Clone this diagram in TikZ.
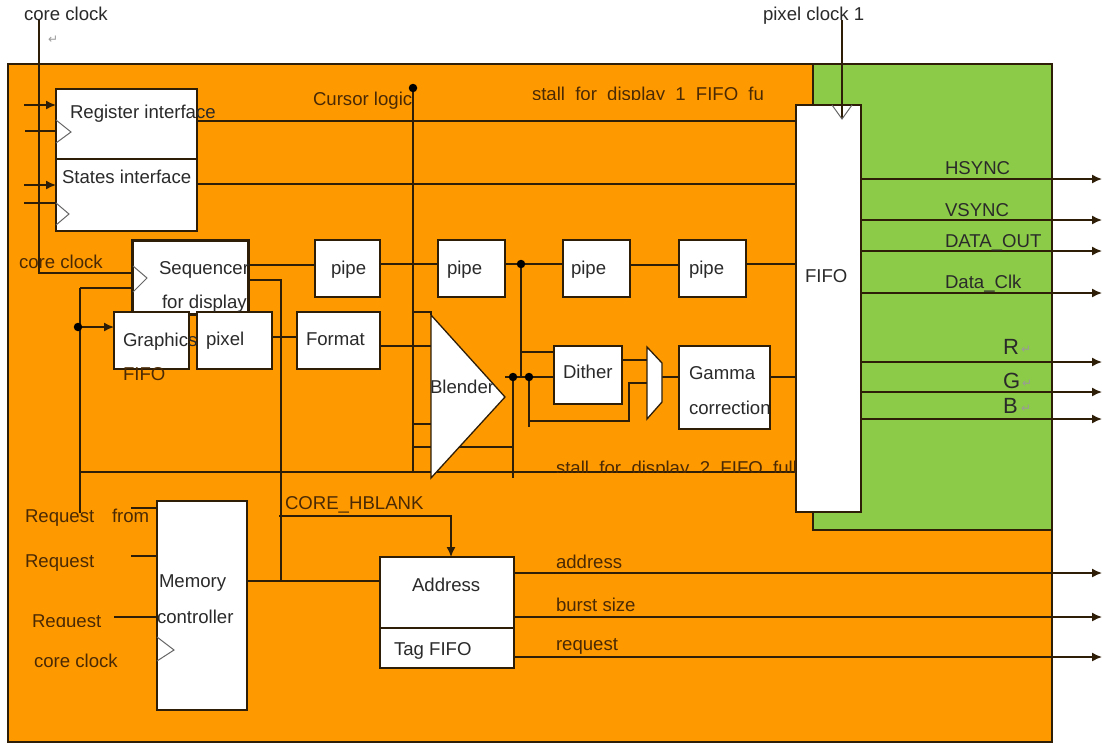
\documentclass[tikz,border=0pt]{standalone}
\usepackage{fontspec}
\setmainfont{Liberation Sans}
\newfontfamily\symfont{DejaVu Sans}
\definecolor{orangebg}{HTML}{FF9900}
\definecolor{greenbg}{HTML}{8CCB47}
\definecolor{wire}{HTML}{2E1E08}
\definecolor{txtdark}{HTML}{2A2A2A}
\definecolor{txtorange}{HTML}{4A2A05}
\definecolor{clk}{HTML}{666666}
\definecolor{markgrey}{HTML}{9A9A9A}
\usetikzlibrary{arrows.meta}
\tikzset{
  wireline/.style={draw=wire,line width=1.5pt},
  arrowline/.style={wireline,-{Latex[length=10pt,width=9pt]}},
  boxnode/.style={draw=wire,fill=white,line width=1.3pt,inner sep=0pt,outer sep=0pt},
  clocktri/.style={draw=clk,line width=1pt,line join=miter},
  shapefill/.style={draw=wire,fill=white,line width=1.3pt},
  dotnode/.style={circle,fill=black,inner sep=0pt,minimum size=8.5pt},
  lbl/.style={anchor=base west,inner sep=0pt,outer sep=0pt,text=txtdark,font=\fontsize{18.6}{22}\selectfont},
  lblo/.style={lbl,text=txtorange},
  lblbig/.style={lbl,font=\fontsize{22}{24}\selectfont},
  retmark/.style={anchor=base west,inner sep=0pt,text=markgrey,font=\symfont\fontsize{12}{14}\selectfont},
}
\newcommand{\bx}[6][]{\node[boxnode,#1,minimum width={(#4-#2)*1pt},minimum height={(#5-#3)*1pt}] (#6) at ({(#2+#4)/2},{(#3+#5)/2}) {};}
\begin{document}
\begin{tikzpicture}[x=1pt,y=-1pt]
\useasboundingbox (0,0) rectangle (1102,744);
\fill[white] (0,0) rectangle (1102,744);
% backgrounds
\bx[fill=orangebg]{8}{64}{1052}{742}{core}
\bx[fill=greenbg]{813}{64}{1052}{530}{disp}
% named free ends and junctions
\coordinate (ckA) at (39,20);
\coordinate (ckB) at (39,273);
\coordinate (px) at (842,20);
\coordinate (pxT) at (842,119);
\coordinate (cur) at (413,88);
\coordinate (curB) at (413,472);
\coordinate (stL) at (80,472);
\coordinate (reqT) at (80,288);
\coordinate (reqB) at (80,513);
\coordinate (gj) at (78,327);
\coordinate (sq) at (281,280);
\coordinate (sqB) at (281,581);
\coordinate (hb) at (279,516);
\coordinate (hbC) at (451,516);
\coordinate (pj) at (521,264);
\coordinate (pjB) at (521,377);
\coordinate (bj) at (513,377);
\coordinate (bjB) at (513,478);
\coordinate (dj) at (529,377);
\coordinate (djB) at (529,427);
\coordinate (djC) at (529,421);
\coordinate (djD) at (629,421);
\coordinate (djE) at (629,383);
\coordinate (tipOut) at (505,377);
\coordinate (blA) at (431,315);
\coordinate (blB) at (505,397);
\coordinate (blC) at (431,478);
\coordinate (muA) at (647,347);
\coordinate (muB) at (662,363);
\coordinate (muC) at (662,402);
\coordinate (muD) at (647,419);
\coordinate (outR) at (1102,0);
% boxes used as anchors are declared first, drawn over the wires afterwards
\begin{scope}[every node/.append style={opacity=0}]
\bx{56}{89}{197}{159}{reg}
\bx{56}{159}{197}{231}{sta}
\bx{132}{240}{248}{314}{seq}
\bx{114}{312}{189}{369}{gfx}
\bx{197}{312}{272}{369}{pix}
\bx{297}{312}{380}{369}{fmt}
\bx{315}{240}{380}{297}{pa}
\bx{438}{240}{505}{297}{pb}
\bx{563}{240}{630}{297}{pc}
\bx{679}{240}{746}{297}{pd}
\bx{554}{346}{622}{404}{dit}
\bx{679}{346}{770}{429}{gam}
\bx{796}{105}{861}{512}{fifo}
\bx{157}{501}{247}{710}{mem}
\bx{380}{557}{514}{628}{adr}
\bx{380}{628}{514}{668}{tag}
\end{scope}
% wires
\draw[wireline] (ckA) -- (ckB) -- (seq.west |- ckB);
\draw[wireline] (px) -- (pxT);
\draw[wireline] (cur) -- (curB);
\draw[wireline] (reg.east |- 0,121) -- (fifo.west |- 0,121);
\draw[wireline] (sta.east |- 0,184) -- (fifo.west |- 0,184);
\draw[wireline] (seq.east |- 0,265) -- (pa.west |- 0,265);
\draw[wireline] (pa.east |- 0,264) -- (pb.west |- 0,264);
\draw[wireline] (pb.east |- pj) -- (pc.west |- pj);
\draw[wireline] (pc.east |- 0,265) -- (pd.west |- 0,265);
\draw[wireline] (pd.east |- 0,264) -- (fifo.west |- 0,264);
\draw[wireline] (seq.east |- sq) -- (sq) -- (sqB);
\draw[wireline] (reqT) -- (seq.west |- reqT);
\draw[wireline] (reqT) -- (reqB);
\draw[wireline] (stL) -- (fifo.west |- stL);
\draw[arrowline] (gj) -- (gfx.west |- gj);
\draw[wireline] (pix.east |- 0,337) -- (fmt.west |- 0,337);
\draw[wireline] (fmt.east |- 0,346) -- (blA |- 0,346);
\draw[wireline] (cur |- 0,312) -- (blA |- 0,312) -- (blA);
\draw[wireline] (cur |- 0,424) -- (blA |- 0,424);
\draw[wireline] (cur |- 0,447) -- (bj |- 0,447);
\draw[wireline] (bj) -- (bjB);
\draw[wireline] (pj) -- (pjB);
\draw[wireline] (pj |- 0,352) -- (dit.west |- 0,352);
\draw[wireline] (tipOut) -- (dit.west |- tipOut);
\draw[wireline] (dj) -- (djB);
\draw[wireline] (djC) -- (djD) -- (djE) -- (muA |- djE);
\draw[wireline] (dit.east |- 0,360) -- (muA |- 0,360);
\draw[wireline] (muB |- 0,377) -- (gam.west |- 0,377);
\draw[wireline] (gam.east |- 0,377) -- (fifo.west |- 0,377);
\draw[wireline] (mem.east |- sqB) -- (adr.west |- sqB);
\draw[arrowline] (hb) -- (hbC) -- (adr.north -| hbC);
\draw[wireline] (mem.west |- 0,508) -- (131,508);
\draw[wireline] (mem.west |- 0,556) -- (131,556);
\draw[wireline] (mem.west |- 0,617) -- (114,617);
% left stubs of the interfaces
\draw[arrowline] (24,105) -- (reg.west |- 0,105);
\draw[wireline] (25,131) -- (reg.west |- 0,131);
\draw[arrowline] (24,185) -- (sta.west |- 0,185);
\draw[wireline] (24,203) -- (sta.west |- 0,203);
% outputs
\foreach \yy in {179,220,251,293,362,392,419}{
  \draw[arrowline] (fifo.east |- 0,\yy) -- (outR |- 0,\yy);
}
\draw[arrowline] (adr.east |- 0,573) -- (outR |- 0,573);
\draw[arrowline] (adr.east |- 0,617) -- (outR |- 0,617);
\draw[arrowline] (tag.east |- 0,657) -- (outR |- 0,657);
% drawn boxes
\bx{56}{89}{197}{159}{regV}
\bx{56}{159}{197}{231}{staV}
\bx[line width=3pt]{132}{240}{248}{314}{seqV}
\bx{114}{312}{189}{369}{gfxV}
\bx{197}{312}{272}{369}{pixV}
\bx{297}{312}{380}{369}{fmtV}
\bx{315}{240}{380}{297}{paV}
\bx{438}{240}{505}{297}{pbV}
\bx{563}{240}{630}{297}{pcV}
\bx{679}{240}{746}{297}{pdV}
\bx{554}{346}{622}{404}{ditV}
\bx{679}{346}{770}{429}{gamV}
\bx{796}{105}{861}{512}{fifoV}
\bx{157}{501}{247}{710}{memV}
\bx{380}{557}{514}{628}{adrV}
\bx{380}{628}{514}{668}{tagV}
\draw[shapefill] (blA) -- (blB) -- (blC) -- cycle;
\draw[shapefill] (muA) -- (muB) -- (muC) -- (muD) -- cycle;
% wires that pass over the boxes
\draw[wireline] (pxT |- fifoV.north) -- (pxT);
% clock triangles
\draw[clocktri] (56,120) -- (71,132) -- (56,143);
\draw[clocktri] (56,203) -- (69,214) -- (56,225);
\draw[clocktri] (133,266) -- (147,278) -- (133,292);
\draw[clocktri] (832,105) -- (842,119) -- (852,105);
\draw[clocktri] (157,637) -- (174,650) -- (157,661);
% junction dots
\node[dotnode] (d1) at (cur) {};
\node[dotnode] (d2) at (gj) {};
\node[dotnode] (d3) at (pj) {};
\node[dotnode] (d4) at (bj) {};
\node[dotnode] (d5) at (dj) {};
% labels
\node[lbl] (t1) at (24,20) {core clock};
\node[retmark] (t2) at (48,43) {↵};
\node[lbl] (t3) at (763,20) {pixel clock 1};
\node[lblo] (t4) at (313,105) {Cursor logic};
\begin{scope}
\clip (525,80) rectangle (780,99.5);
\node[lblo] (t5) at (532,100) {\makebox[232pt][s]{stall for display 1 FIFO fu}};
\end{scope}
\node[lbl] (t6) at (70,118) {Register interface};
\node[lbl] (t7) at (62,183) {States interface};
\node[lblo] (t8) at (19,268) {core clock};
\node[lbl] (t9) at (159,274) {Sequencer};
\node[lbl] (t10) at (162,308) {for display};
\node[lbl] (t11) at (123,346) {Graphics};
\node[lblo] (t12) at (123,380) {FIFO};
\node[lbl] (t13) at (206,345) {pixel};
\node[lbl] (t14) at (306,345) {Format};
\node[lbl] (t15) at (331,274) {pipe};
\node[lbl] (t16) at (447,274) {pipe};
\node[lbl] (t17) at (571,274) {pipe};
\node[lbl] (t18) at (689,274) {pipe};
\node[lbl] (t19) at (430,393) {Blender};
\node[lbl] (t20) at (563,378) {Dither};
\node[lbl] (t21) at (689,379) {Gamma};
\node[lbl] (t22) at (689,414) {correction};
\begin{scope}
\clip (550,455) rectangle (800,472);
\node[lblo] (t23) at (556,474) {\makebox[241pt][s]{stall for display 2 FIFO full}};
\end{scope}
\node[lbl] (t24) at (805,282) {FIFO};
\node[lbl] (t25) at (945,174) {HSYNC};
\node[lbl] (t26) at (945,216) {VSYNC};
\node[lbl] (t27) at (945,247) {DATA\_OUT};
\node[lbl] (t28) at (945,288) {Data\_Clk};
\node[lblbig] (t29) at (1003,354) {R};
\node[retmark] (t30) at (1021,353) {↵};
\node[lblbig] (t31) at (1003,388) {G};
\node[retmark] (t32) at (1022,387) {↵};
\node[lblbig] (t33) at (1003,413) {B};
\node[retmark] (t34) at (1021,412) {↵};
\node[lblo] (t35) at (25,522) {Request};
\node[lblo] (t36) at (112,522) {from};
\node[lblo] (t37) at (25,567) {Request};
\begin{scope}
\clip (25,605) rectangle (110,626);
\node[lblo] (t38) at (32,627) {Request};
\end{scope}
\node[lblo] (t39) at (34,667) {core clock};
\node[lbl] (t40) at (159,587) {Memory};
\node[lbl] (t41) at (157,623) {controller};
\node[lblo] (t42) at (285,509) {CORE\_HBLANK};
\node[lbl] (t43) at (412,591) {Address};
\node[lbl] (t44) at (394,655) {Tag FIFO};
\node[lblo] (t45) at (556,568) {address};
\node[lblo] (t46) at (556,611) {burst size};
\node[lblo] (t47) at (556,650) {request};
\end{tikzpicture}
\end{document}
